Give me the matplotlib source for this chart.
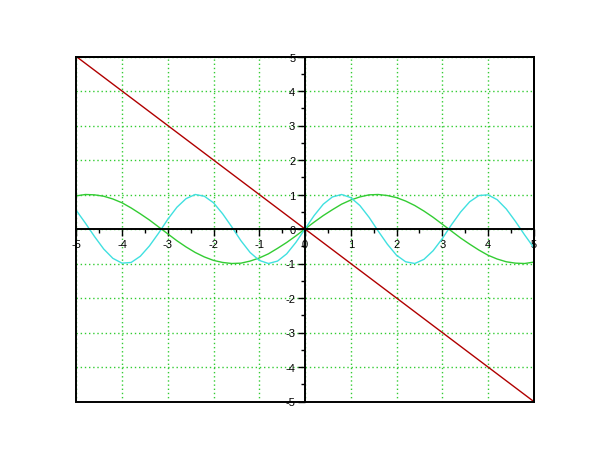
import matplotlib
matplotlib.use("Agg")
import matplotlib.pyplot as plt
from matplotlib.patches import Rectangle
from matplotlib.ticker import MultipleLocator

plt.rcParams["font.family"] = ["Liberation Sans", "DejaVu Sans"]
plt.rcParams["axes.unicode_minus"] = False

# sample positions, -5 .. 5 every 0.2
x = [round(-5 + 0.2 * i, 1) for i in range(51)]

# green curve, values
green_y = [0.96, 1.00, 0.99, 0.95, 0.87, 0.76, 0.61, 0.44, 0.26, 0.06,
           -0.14, -0.34, -0.52, -0.68, -0.81, -0.91, -0.97, -1.00, -0.99, -0.93,
           -0.84, -0.72, -0.56, -0.39, -0.20, 0.00, 0.20, 0.39, 0.56, 0.72,
           0.84, 0.93, 0.99, 1.00, 0.97, 0.91, 0.81, 0.68, 0.52, 0.34,
           0.14, -0.06, -0.26, -0.44, -0.61, -0.76, -0.87, -0.95, -0.99, -1.00,
           -0.96]

# cyan curve
cyan_y = [0.54, 0.17, -0.22, -0.58, -0.85, -0.99, -0.97, -0.79, -0.49, -0.12,
          0.28, 0.63, 0.88, 1.00, 0.95, 0.76, 0.44, 0.06, -0.34, -0.68,
          -0.91, -1.00, -0.93, -0.72, -0.39, 0.00, 0.39, 0.72, 0.93, 1.00,
          0.91, 0.68, 0.34, -0.06, -0.44, -0.76, -0.95, -1.00, -0.88, -0.63,
          -0.28, 0.12, 0.49, 0.79, 0.97, 0.99, 0.85, 0.58, 0.22, -0.17,
          -0.54]

# red straight line
red_x = [-5, 5]
red_y = [5, -5]

ticks = [-5, -4, -3, -2, -1, 0, 1, 2, 3, 4, 5]

fig = plt.figure(figsize=(6.1, 4.6), dpi=100)
ax = fig.add_axes([0.125, 0.125, 0.75, 0.75])

ax.plot(x, green_y, color="#33cc33", lw=1.0)
ax.plot(x, cyan_y, color="#40e0e0", lw=1.0)
ax.plot(red_x, red_y, color="#b00000", lw=1.0)

ax.set_xlim(-5, 5)
ax.set_ylim(-5, 5)
ax.set_xticks(ticks)
ax.set_yticks(ticks)
ax.set_xticklabels([str(t) for t in ticks])
ax.set_yticklabels([str(t) for t in ticks])
ax.xaxis.set_minor_locator(MultipleLocator(0.5))
ax.yaxis.set_minor_locator(MultipleLocator(0.5))

# axes through the origin, plus the outer frame
ax.spines["left"].set_position(("data", 0))
ax.spines["bottom"].set_position(("data", 0))
for s in ax.spines.values():
    s.set_linewidth(1.4)
    s.set_color("black")
ax.add_patch(Rectangle((0, 0), 1, 1, transform=ax.transAxes, fill=False,
                       ec="black", lw=1.4, clip_on=False, zorder=3))
ax.xaxis.set_ticks_position("bottom")
ax.yaxis.set_ticks_position("left")
ax.tick_params(which="major", direction="out", length=5, width=1,
               labelsize=8, pad=2, colors="black")
ax.tick_params(which="minor", direction="out", length=3, width=1)

ax.grid(True, which="major", color="#33cc33", linestyle=(0, (1, 2)), lw=1.0)

fig.savefig("out.png", dpi=100)
